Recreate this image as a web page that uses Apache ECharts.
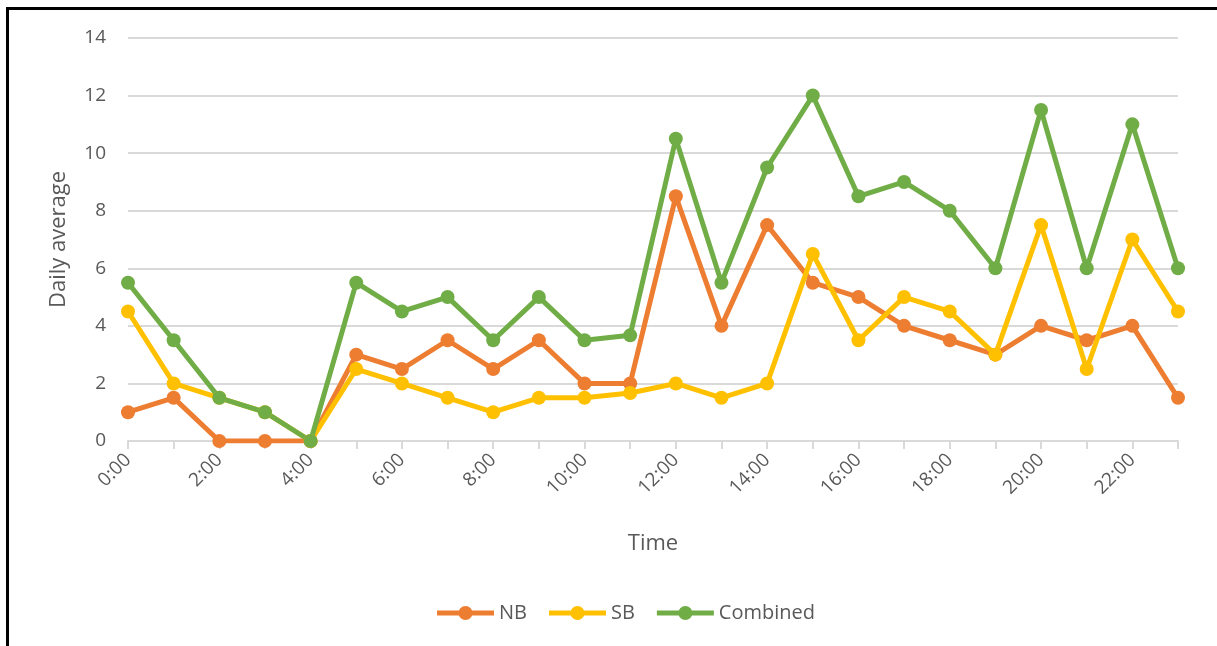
<!DOCTYPE html>
<html>
<head>
<meta charset="utf-8">
<script src="https://cdn.jsdelivr.net/npm/echarts@6/dist/echarts.min.js"></script>
<style>
  html, body { margin: 0; padding: 0; background: #fff; }
  #frame {
    position: absolute; left: 6px; top: 7px; width: 1211px; height: 639px;
    border-top: 3px solid #000; border-left: 3px solid #000; box-sizing: border-box;
  }
  #main { position: absolute; left: 0; top: 0; width: 1217px; height: 646px; }
</style>
</head>
<body>
<div id="frame"></div>
<div id="main"></div>
<script>
// 时间类目
const hours = ['0:00', '1:00', '2:00', '3:00', '4:00', '5:00', '6:00', '7:00', '8:00', '9:00', '10:00', '11:00',
  '12:00', '13:00', '14:00', '15:00', '16:00', '17:00', '18:00', '19:00', '20:00', '21:00', '22:00', '23:00']
const nbValues = [1, 1.5, 0, 0, 0, 3, 2.5, 3.5, 2.5, 3.5, 2, 2, 8.5, 4, 7.5, 5.5, 5, 4, 3.5, 3, 4, 3.5, 4, 1.5]
const sbValues = [4.5, 2, 1.5, 1, 0, 2.5, 2, 1.5, 1, 1.5, 1.5, 1.67, 2, 1.5, 2, 6.5, 3.5, 5, 4.5, 3, 7.5, 2.5, 7, 4.5]
const combinedValues = [5.5, 3.5, 1.5, 1, 0, 5.5, 4.5, 5, 3.5, 5, 3.5, 3.67, 10.5, 5.5, 9.5, 12, 8.5, 9, 8, 6, 11.5, 6, 11, 6]
const seriesNames = ['NB', 'SB', 'Combined']

const textColor = '#595959'
const fontName = 'Open Sans'
// 图例图标：粗线 + 圆点
const legendIcon = 'path://M0,4.5 L57,4.5 L57,9.5 L0,9.5 Z M28.5,0 A7,7 0 1 1 28.5,14 A7,7 0 1 1 28.5,0 Z'

function lineSeries (name, data, color) {
  return {
    name: name,
    type: 'line',
    data: data,
    symbol: 'circle',
    symbolSize: 14,
    lineStyle: { width: 5, color: color },
    itemStyle: { color: color },
    emphasis: { disabled: true }
  }
}

const option = {
  animation: false,
  textStyle: { fontFamily: fontName },
  grid: { left: 128, right: 39, top: 38, bottom: 205 },
  legend: {
    data: seriesNames.map(n => ({ name: n, icon: legendIcon })),
    bottom: 18,
    left: 432,
    itemWidth: 57,
    itemHeight: 14,
    itemGap: 22,
    textStyle: { fontSize: 20, color: textColor, fontFamily: fontName }
  },
  xAxis: {
    type: 'category',
    data: hours,
    boundaryGap: false,
    name: 'Time',
    nameLocation: 'middle',
    nameGap: 92,
    nameTextStyle: { fontSize: 22, color: textColor },
    axisLine: { lineStyle: { color: '#d9d9d9', width: 2 } },
    axisTick: { show: true, interval: 0, length: 8, lineStyle: { color: '#d9d9d9', width: 2 } },
    axisLabel: { interval: 1, rotate: 45, fontSize: 19, color: textColor, margin: 16 }
  },
  yAxis: {
    type: 'value',
    min: 0,
    max: 14,
    interval: 2,
    name: 'Daily average',
    nameLocation: 'middle',
    nameGap: 58,
    nameTextStyle: { fontSize: 22, color: textColor },
    axisLine: { show: false },
    axisTick: { show: false },
    axisLabel: { fontSize: 19, color: textColor, margin: 22 },
    splitLine: { lineStyle: { color: '#d9d9d9', width: 2 } }
  },
  series: [
    lineSeries(seriesNames[0], nbValues, '#ED7D31'),
    lineSeries(seriesNames[1], sbValues, '#FFC000'),
    lineSeries(seriesNames[2], combinedValues, '#70AD47')
  ]
}

const myChart = echarts.init(document.getElementById('main'))
myChart.setOption(option)
</script>
</body>
</html>
